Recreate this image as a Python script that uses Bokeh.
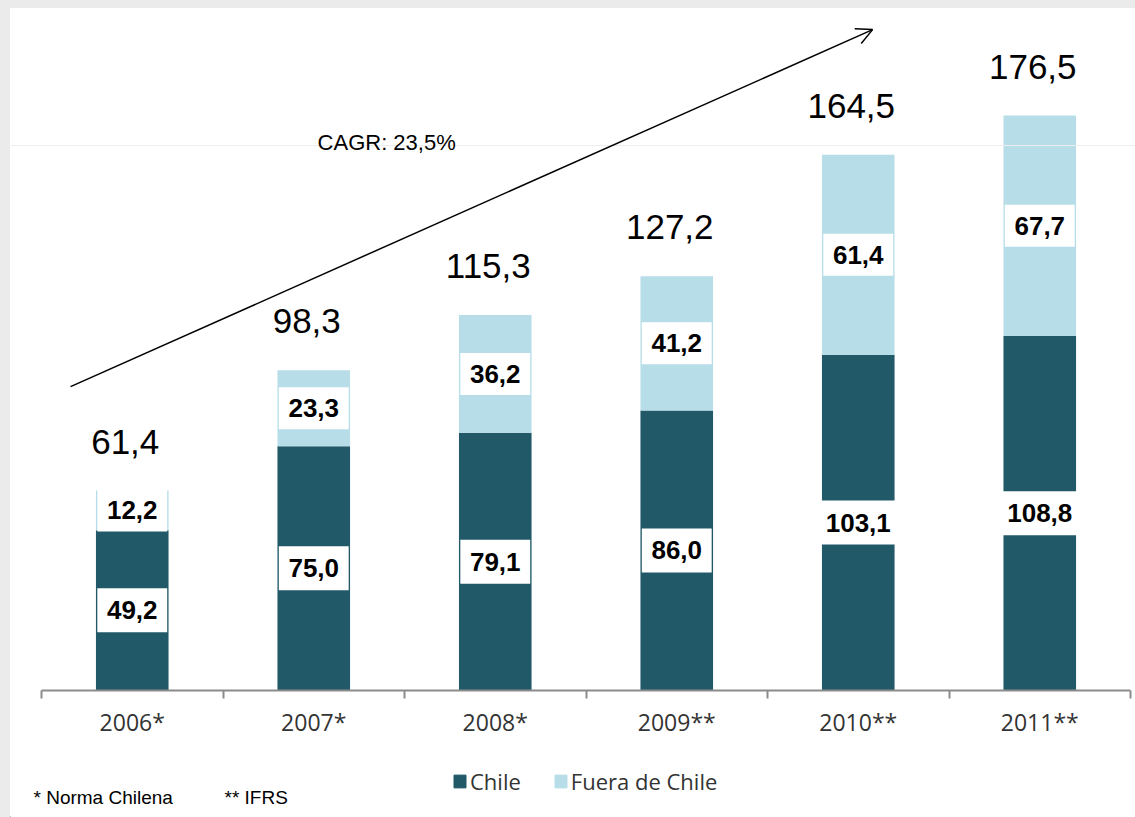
from bokeh.plotting import figure
from bokeh.layouts import column, row
from bokeh.models import (ColumnDataSource, Range1d, FixedTicker, Legend, LegendItem,
                          Label, Arrow, OpenHead, Span, Spacer)
from bokeh.core.properties import value
from bokeh.embed import file_html
from bokeh.resources import INLINE

# ---- data ----
years = ["2006*", "2007*", "2008*", "2009**", "2010**", "2011**"]
chile = [49.2, 75.0, 79.1, 86.0, 103.1, 108.8]
fuera = [12.2, 23.3, 36.2, 41.2, 61.4, 67.7]
totals = [61.4, 98.3, 115.3, 127.2, 164.5, 176.5]
series_names = ["Chile", "Fuera de Chile"]
cagr_text = "CAGR: 23,5%"
footnotes = ["* Norma Chilena", "** IFRS"]

DARK = "#215968"
LIGHT = "#B7DEE8"
ARIAL = "Liberation Sans"
GRAY_BG = "#ebebeb"


def fmt(v):
    return f"{v:.1f}".replace(".", ",")


n = len(years)
xs = [i + 0.5 for i in range(n)]
src = ColumnDataSource(dict(
    x=xs, chile=chile, fuera=fuera, total=totals,
    total_lbl=[fmt(t) for t in totals],
    chile_mid=[c / 2 for c in chile],
    fuera_mid=[c + f / 2 for c, f in zip(chile, fuera)],
    chile_lbl=[fmt(c) for c in chile],
    fuera_lbl=[fmt(f) for f in fuera],
    chile_w=[0.385 if len(fmt(c)) <= 4 else 0.43 for c in chile],
    fuera_w=[0.385 if len(fmt(f)) <= 4 else 0.43 for f in fuera],
))

W = 1125
p = figure(width=W, height=755,
           x_range=Range1d(-0.1708, n + 0.0275), y_range=Range1d(0, 205.7),
           output_backend="svg", toolbar_location=None,
           y_axis_location=None,
           min_border_left=0, min_border_right=0,
           min_border_top=12, min_border_bottom=73,
           background_fill_color="white", border_fill_color="white",
           outline_line_color=None)
p.grid.visible = False

# faint slide line
p.add_layout(Span(location=167.3, dimension="width", line_color="#ededed", line_width=1))

renderers = p.vbar_stack(["chile", "fuera"], x="x", width=0.4, color=[DARK, LIGHT],
                         line_color=None, source=src)

# value boxes
p.rect(x="x", y="chile_mid", width="chile_w", height=44, height_units="screen",
       fill_color="white", line_color=None, source=src)
p.rect(x="x", y="fuera_mid", width="fuera_w", height=42, height_units="screen",
       fill_color="white", line_color=None, source=src)
for ycol, tcol in (("chile_mid", "chile_lbl"), ("fuera_mid", "fuera_lbl")):
    p.text(x="x", y=ycol, text=tcol, source=src,
           text_font=value(ARIAL), text_font_style="bold", text_font_size="26px",
           text_align="center", text_baseline="middle", text_color="black")

# totals
p.text(x="x", y="total", text="total_lbl", source=src, x_offset=-7, y_offset=-49,
       text_font=value(ARIAL), text_font_size="35px",
       text_align="center", text_baseline="alphabetic", text_color="black")

# CAGR arrow + label
p.add_layout(Arrow(end=OpenHead(size=16, line_width=1.5, line_color="black"),
                   x_start=0.16, y_start=93.3, x_end=4.579, y_end=202.9,
                   line_width=1.5, line_color="black"))
p.add_layout(Label(x=1.521, y=168.3, text=cagr_text, text_font=ARIAL,
                   text_font_size="22px", text_align="left",
                   text_baseline="alphabetic", text_color="black"))

# x axis
ax = p.xaxis[0]
ax.bounds = (0, n)
ax.ticker = FixedTicker(ticks=xs, minor_ticks=list(range(n + 1)))
ax.major_label_overrides = {xv: yr for xv, yr in zip(xs, years)}
ax.major_tick_out = 0
ax.major_tick_in = 0
ax.minor_tick_out = 8
ax.minor_tick_in = 0
ax.minor_tick_line_color = "#8c8c8c"
ax.minor_tick_line_width = 2
ax.axis_line_color = "#8c8c8c"
ax.axis_line_width = 2
ax.major_label_standoff = 7
ax.major_label_text_font = "Open Sans"
ax.major_label_text_font_size = "23px"
ax.major_label_text_color = "#333333"

# ---- bottom strip: legend + footnotes ----
H2 = 54
p2 = figure(width=W, height=H2, x_range=Range1d(0, W), y_range=Range1d(0, H2),
            output_backend="svg", toolbar_location=None,
            x_axis_location=None, y_axis_location=None,
            min_border_left=0, min_border_right=0, min_border_top=0, min_border_bottom=0,
            background_fill_color="white", border_fill_color="white",
            outline_line_color=None)
p2.grid.visible = False
# legend proxies (kept outside the visible range)
d1 = p2.vbar(x=[-100], top=[1], width=1, color=DARK)
d2 = p2.vbar(x=[-100], top=[1], width=1, color=LIGHT)
legend = Legend(items=[LegendItem(label=series_names[0], renderers=[d1]),
                       LegendItem(label=series_names[1], renderers=[d2])],
                location=(442, 21), orientation="horizontal",
                glyph_width=15, glyph_height=16, label_standoff=3, spacing=32,
                padding=0, margin=0, border_line_color=None, background_fill_alpha=0,
                label_text_font="Open Sans", label_text_font_size="22px",
                label_text_color="#333333")
p2.add_layout(legend)
p2.add_layout(Label(x=23, y=20, text=footnotes[0], text_font=ARIAL,
                    text_font_size="19px", text_baseline="alphabetic", text_color="black"))
p2.add_layout(Label(x=214, y=20, text=footnotes[1], text_font=ARIAL,
                    text_font_size="19px", text_baseline="alphabetic", text_color="black"))

top_strip = Spacer(width=1135, height=8, styles={"background-color": GRAY_BG})
left_strip = Spacer(width=10, height=809, styles={"background-color": GRAY_BG})
layout = column(top_strip, row(left_strip, column(p, p2, spacing=0), spacing=0), spacing=0)

open("out.html", "w").write(file_html(layout, INLINE))
